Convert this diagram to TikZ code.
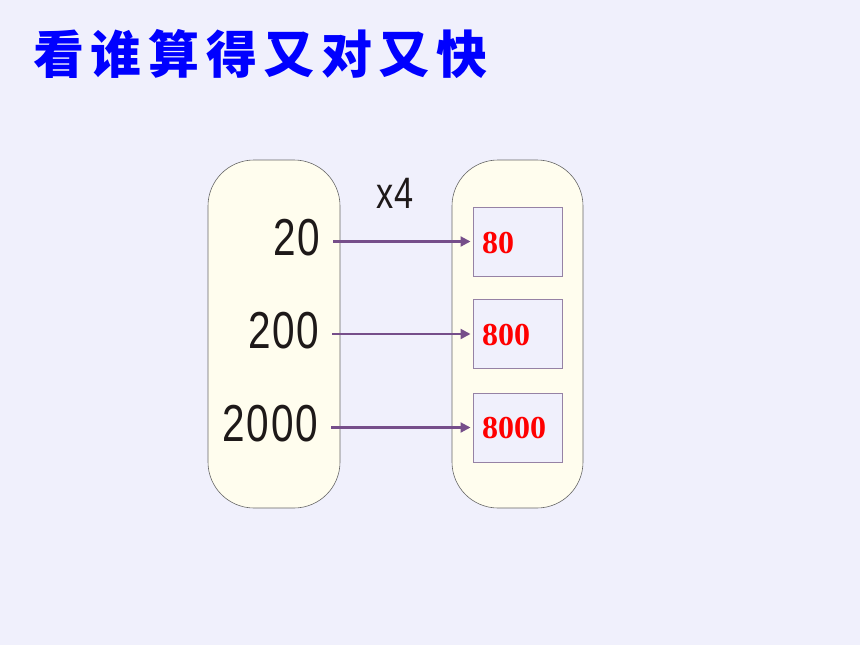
\documentclass[tikz,border=0pt]{standalone}
\usepackage{fontspec}
\setmainfont{Liberation Serif}
\newfontfamily\cjk[LetterSpace=13]{Noto Sans CJK SC}
\newfontfamily\numfont[FakeStretch=0.78,LetterSpace=3]{Liberation Sans}
\usetikzlibrary{arrows.meta}
\definecolor{bg}{RGB}{240,240,252}
\definecolor{cream}{RGB}{255,253,238}
\definecolor{boxline}{RGB}{150,130,165}
\definecolor{arr}{RGB}{118,78,138}
\definecolor{ttl}{RGB}{0,0,255}
\definecolor{txt}{RGB}{30,25,25}
\tikzset{
  panel/.style={draw=black!60, line width=0.6pt, fill=cream, rounded corners=46pt},
  resbox/.style={draw=boxline, line width=1pt, fill=bg, minimum width=89pt, minimum height=69pt, inner sep=0},
  num/.style={font=\numfont\fontsize{52}{52}\selectfont, text=txt, inner sep=0, anchor=east},
  res/.style={font=\bfseries\fontsize{32}{32}\selectfont, text=red, inner sep=0, anchor=west},
  conn/.style={draw=arr, line width=2.2pt, -{Triangle[length=10pt,width=10pt]}, shorten <=13pt, shorten >=2pt}
}
\begin{document}
\begin{tikzpicture}[x=1pt,y=-1pt]
\fill[bg] (0,0) rectangle (860,645);
\useasboundingbox (0,0) rectangle (860,645);
% title
\node[anchor=west, inner sep=0, text=ttl, font=\cjk\bfseries\fontsize{51}{51}\selectfont] (title) at (33,54) {看谁算得又对又快};
% panels
\draw[panel] (208,160) rectangle (340,508);
\draw[panel] (452,160) rectangle (583,508);
\node[inner sep=0, font=\numfont\fontsize{44}{44}\selectfont, text=txt] (times) at (395,193) {x4};
% left numbers
\node[num] (n1) at (320,238) {20};
\node[num] (n2) at (319,331) {200};
\node[num] (n3) at (318,424) {2000};
% result boxes
\node[resbox] (b1) at (517.5,241.5) {};
\node[resbox] (b2) at (517.5,334) {};
\node[resbox] (b3) at (517.5,427.5) {};
\node[res] (r1) at (482,243) {80};
\node[res] (r2) at (482,335) {800};
\node[res] (r3) at (482,428) {8000};
% connectors
\draw[conn] (n1.east |- b1.west) -- (b1.west);
\draw[conn] (n2.east |- b2.west) -- (b2.west);
\draw[conn] (n3.east |- b3.west) -- (b3.west);
\end{tikzpicture}
\end{document}
